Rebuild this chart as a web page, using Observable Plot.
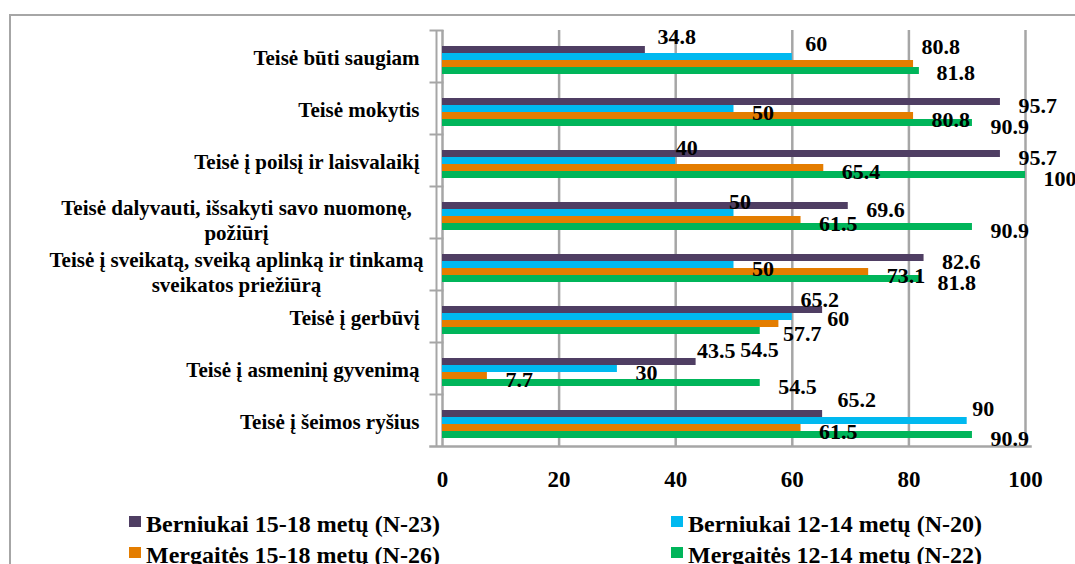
<!DOCTYPE html>
<html><head><meta charset="utf-8">
<script src="https://cdn.jsdelivr.net/npm/d3@7"></script>
<script src="https://cdn.jsdelivr.net/npm/@observablehq/plot@0.6"></script>
<style>
html,body{margin:0;padding:0;background:#fff;}
#wrap{position:relative;width:1075px;height:564px;overflow:hidden;font-family:"Liberation Serif","Times New Roman",serif;}
#border{position:absolute;left:9px;top:14px;width:1200px;height:700px;border:2px solid #a6a6a6;box-sizing:border-box;}
#chart{position:absolute;left:0;top:0;}
#legend{position:absolute;left:0;top:0;width:1075px;height:564px;font-weight:bold;font-size:24px;line-height:24px;color:#000;}
.item{position:absolute;white-space:nowrap;}
.sw{position:absolute;width:12px;height:11px;}
</style></head>
<body><div id="wrap"><div id="border"></div><div id="chart"></div><div id="legend"></div></div>
<script>
// ---- data ----
const categories = [
  "Teisė būti saugiam",
  "Teisė mokytis",
  "Teisė į poilsį ir laisvalaikį",
  "Teisė dalyvauti, išsakyti savo nuomonę,\npožiūrį",
  "Teisė į sveikatą, sveiką aplinką ir tinkamą\nsveikatos priežiūrą",
  "Teisė į gerbūvį",
  "Teisė į asmeninį gyvenimą",
  "Teisė į šeimos ryšius"
];
const series = [
  "Berniukai 15-18 metų (N-23)",
  "Berniukai 12-14 metų (N-20)",
  "Mergaitės 15-18 metų (N-26)",
  "Mergaitės 12-14 metų (N-22)"
];
const boys15_18  = [34.8, 95.7, 95.7, 69.6, 82.6, 65.2, 43.5, 65.2];
const boys12_14  = [60, 50, 40, 50, 50, 60, 30, 90];
const girls15_18 = [80.8, 80.8, 65.4, 61.5, 73.1, 57.7, 7.7, 61.5];
const girls12_14 = [81.8, 90.9, 100, 90.9, 81.8, 54.5, 54.5, 90.9];
const xTicks = [0, 20, 40, 60, 80, 100];

// ---- styling / layout ----
const colors = ["#4f3e63", "#00b9f0", "#e47d00", "#00b55a"];
const gridColor = "#a6a6a6";
// manual label nudges (category index, series index, dx px, dy px), as in the original
const labelNudges = [
  [0,0,12,-13],[0,1,13,-13],[0,2,8,-17],[0,3,17,2],
  [2,1,0,-13],
  [3,1,-5,-11],
  [5,0,-22,-10],[5,1,35,2],[5,2,4,10],[5,3,-20,19],
  [6,0,1,-11],
  [7,0,15,-14],[7,1,5,-12]
];

const seriesValues = [boys15_18, boys12_14, girls15_18, girls12_14];
const rows = [];
categories.forEach((c, i) => series.forEach((s, j) =>
  rows.push({category: c, series: s, value: seriesValues[j][i], ci: i, si: j})));
const nudged = new Set(labelNudges.map(([i, j]) => i + "-" + j));

const W = 1075, H = 500, mL = 442, mR = 50, mT = 28, mB = 52;
const plotW = W - mL - mR;

const labelBase = {fy: "category", y: "series", x: "value", text: d => String(d.value),
  textAnchor: "start", fontSize: 22, fontWeight: "bold", fill: "#000"};
const catBase = {fy: d => d, frameAnchor: "left", text: d => d, fontSize: 21, fontWeight: "bold", fill: "#000"};

const chart = Plot.plot({
  width: W, height: H,
  marginLeft: mL, marginRight: mR, marginTop: mT, marginBottom: mB,
  style: {fontFamily: "'Liberation Serif','Times New Roman',serif", color: "#000", background: "transparent", overflow: "visible"},
  x: {domain: [0, 100], axis: null},
  y: {domain: series, paddingInner: 0, paddingOuter: 1.62, align: 0.68, axis: null},
  fy: {domain: categories, padding: 0, axis: null},
  color: {domain: series, range: colors},
  marks: [
    Plot.ruleX(xTicks, {stroke: gridColor, strokeWidth: 2.5}),
    Plot.ruleX([0], {stroke: gridColor, strokeWidth: 2, dx: -6}),
    Plot.frame({anchor: "top", stroke: gridColor, strokeWidth: 2, insetLeft: -12, insetRight: plotW}),
    Plot.frame({anchor: "bottom", facetAnchor: "bottom", stroke: gridColor, strokeWidth: 2.5, insetLeft: -12, insetRight: -5}),
    Plot.barX(rows, {fy: "category", y: "series", x: "value", fill: "series"}),
    Plot.text(rows, {...labelBase, filter: d => !nudged.has(d.ci + "-" + d.si), dx: 18, dy: 4}),
    ...labelNudges.map(([i, j, dx, dy]) =>
      Plot.text(rows, {...labelBase, filter: d => d.ci === i && d.si === j, dx, dy})),
    Plot.text(categories, {...catBase, filter: d => !d.includes("\n"), textAnchor: "end", dx: -23, dy: 2}),
    Plot.text(categories, {...catBase, filter: d => d.includes("\n"), textAnchor: "middle", dx: -206, dy: 7, lineHeight: 1.2}),
    Plot.axisX({ticks: xTicks, tickSize: 0, tickPadding: 24, fontSize: 23, fontWeight: "bold", label: null, fill: "#000"})
  ]
});
document.getElementById("chart").appendChild(chart);

// legend (HTML, below plot area)
const legend = document.getElementById("legend");
const colX = [129, 671], rowY = [512, 543];
series.forEach((s, k) => {
  const col = k % 2, row = Math.floor(k / 2);
  const sw = document.createElement("div");
  sw.className = "sw";
  sw.style.left = colX[col] + "px";
  sw.style.top = (rowY[row] + 4) + "px";
  sw.style.background = colors[k];
  legend.appendChild(sw);
  const t = document.createElement("div");
  t.className = "item";
  t.style.left = (colX[col] + 17) + "px";
  t.style.top = rowY[row] + "px";
  t.textContent = s;
  legend.appendChild(t);
});
</script>
</body></html>
